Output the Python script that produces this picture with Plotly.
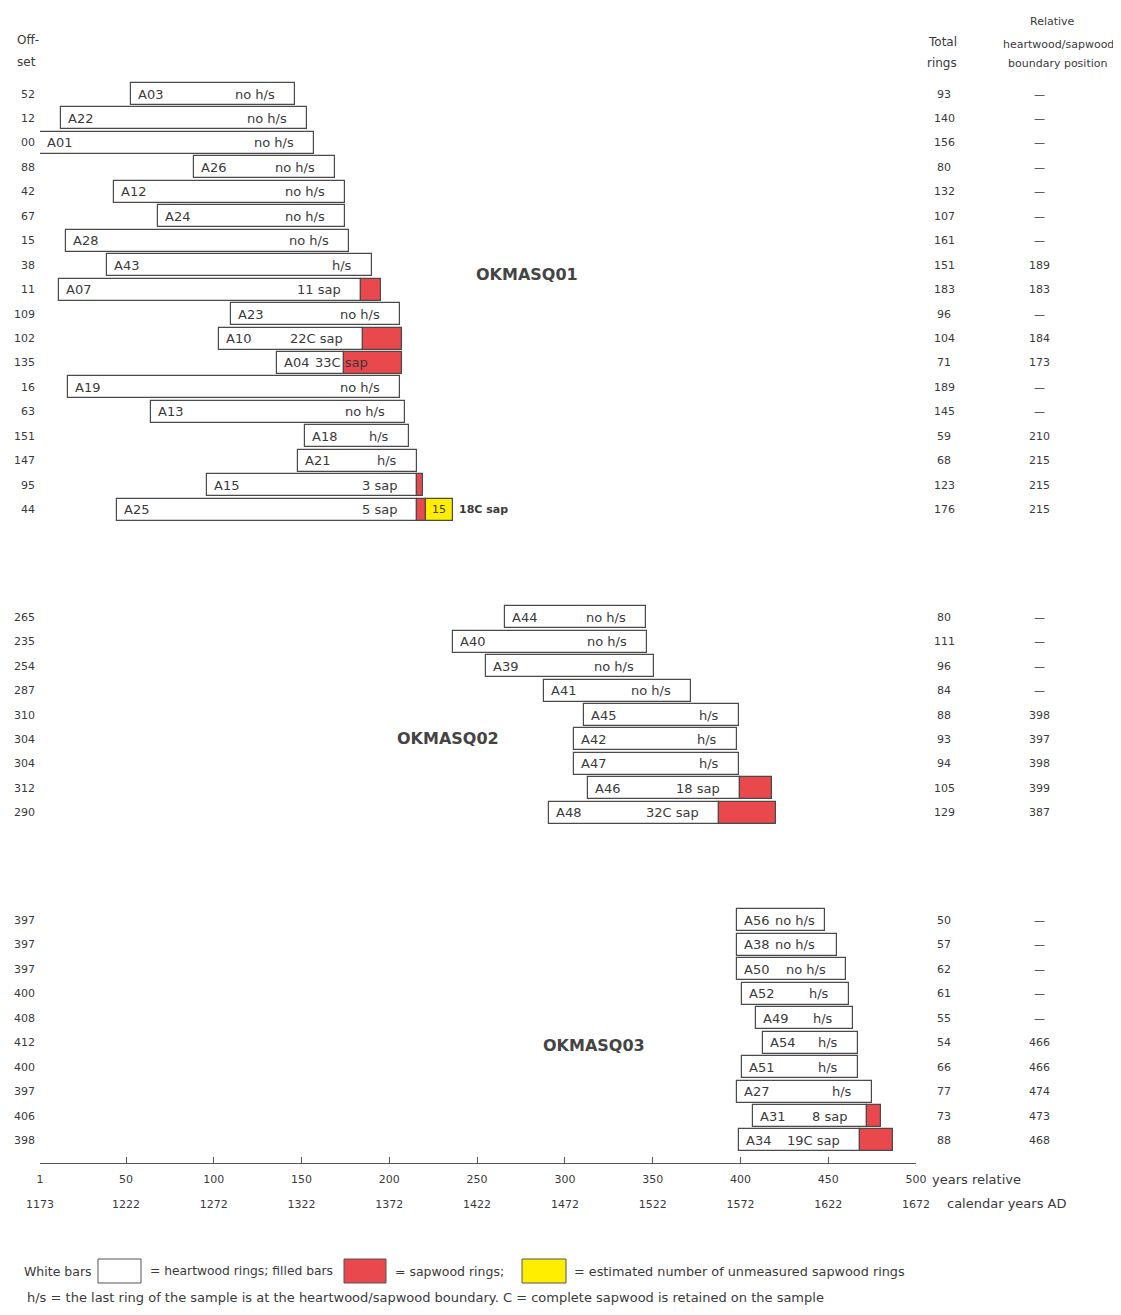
import plotly.graph_objects as go

# ---------------- data ----------------
g1_ids = ["A03", "A22", "A01", "A26", "A12", "A24", "A28", "A43", "A07", "A23",
          "A10", "A04", "A19", "A13", "A18", "A21", "A15", "A25"]
g1_offsets = [52, 12, 0, 88, 42, 67, 15, 38, 11, 109, 102, 135, 16, 63, 151, 147, 95, 44]
g1_totals = [93, 140, 156, 80, 132, 107, 161, 151, 183, 96, 104, 71, 189, 145, 59, 68, 123, 176]
g1_sap = [0, 0, 0, 0, 0, 0, 0, 0, 11, 0, 22, 33, 0, 0, 0, 0, 3, 5]
g1_est = [0] * 17 + [15]
g1_status = ["no h/s"] * 7 + ["h/s", "11 sap", "no h/s", "22C sap", "33C sap", "no h/s",
                              "no h/s", "h/s", "h/s", "3 sap", "5 sap"]
g1_boundary = ["—"] * 7 + ["189", "183", "—", "184", "173", "—", "—", "210", "215", "215", "215"]

g2_ids = ["A44", "A40", "A39", "A41", "A45", "A42", "A47", "A46", "A48"]
g2_offsets = [265, 235, 254, 287, 310, 304, 304, 312, 290]
g2_totals = [80, 111, 96, 84, 88, 93, 94, 105, 129]
g2_sap = [0, 0, 0, 0, 0, 0, 0, 18, 32]
g2_est = [0] * 9
g2_status = ["no h/s", "no h/s", "no h/s", "no h/s", "h/s", "h/s", "h/s", "18 sap", "32C sap"]
g2_boundary = ["—"] * 4 + ["398", "397", "398", "399", "387"]

g3_ids = ["A56", "A38", "A50", "A52", "A49", "A54", "A51", "A27", "A31", "A34"]
g3_offsets = [397, 397, 397, 400, 408, 412, 400, 397, 406, 398]
g3_totals = [50, 57, 62, 61, 55, 54, 66, 77, 73, 88]
g3_sap = [0, 0, 0, 0, 0, 0, 0, 0, 8, 19]
g3_est = [0] * 10
g3_status = ["no h/s", "no h/s", "no h/s", "h/s", "h/s", "h/s", "h/s", "h/s", "8 sap", "19C sap"]
g3_boundary = ["—"] * 5 + ["466", "466", "474", "473", "468"]

group_names = ["OKMASQ01", "OKMASQ02", "OKMASQ03"]
est_label = "15"
est_note = "18C sap"

rel_ticks = [1, 50, 100, 150, 200, 250, 300, 350, 400, 450, 500]
cal_ticks = [1173, 1222, 1272, 1322, 1372, 1422, 1472, 1522, 1572, 1622, 1672]

# ---------------- layout helpers ----------------
PAGE_W, PAGE_H = 1121, 1315
BODY = 8                        # default page margin around the figure
W, H = PAGE_W - 2 * BODY, PAGE_H - 2 * BODY
AX_L, AX_R = 40, 916            # page-pixel span of x axis (1 .. 500)
AX_T, AX_B = 70, 1163           # page-pixel span of plot area
ROW0_PX, ROW_PX = 94, 24.45     # first row centre, row pitch (page pixels)
GAP = 4.4                       # gap between groups, in rows
PPY = (AX_R - AX_L) / (rel_ticks[-1] - rel_ticks[0])   # pixels per year

TXT = "#3a3a3a"
FONT = "DejaVu Sans"
LINE = "#4a4a4a"
RED = "#e9484d"
YEL = "#ffee00"
BAR_FS = 13


def px(p):
    return (p - BODY) / W


def py(p):
    return 1 - (p - BODY) / H


def tw(s, k=8.4):
    return len(s) * k


def row_at(p):
    return (p - ROW0_PX) / ROW_PX


groups = [
    (g1_ids, g1_offsets, g1_totals, g1_sap, g1_est, g1_status, g1_boundary),
    (g2_ids, g2_offsets, g2_totals, g2_sap, g2_est, g2_status, g2_boundary),
    (g3_ids, g3_offsets, g3_totals, g3_sap, g3_est, g3_status, g3_boundary),
]

rows_y, starts, hw_len, sap_base, sap_len, est_base, est_len = [], [], [], [], [], [], []
annotations = []
shapes = []
cur = 0.0
for gi, (ids, offs, tots, saps, ests, stats, bnds) in enumerate(groups):
    for i in range(len(ids)):
        y = cur + i
        s = offs[i] + 1
        hw = tots[i] - saps[i]
        rows_y.append(y)
        starts.append(s)
        hw_len.append(hw)
        sap_base.append(s + hw)
        sap_len.append(saps[i])
        est_base.append(s + tots[i])
        est_len.append(ests[i])
        bf = dict(size=BAR_FS, color=TXT, family=FONT)
        # label in bar
        annotations.append(dict(x=s, y=y, xref="x", yref="y", text=ids[i], showarrow=False,
                                xanchor="left", xshift=5, font=bf))
        # status text
        need = tw(ids[i]) + tw(stats[i], 7.4) + 34
        if hw * PPY >= need:
            annotations.append(dict(x=s + hw, y=y, xref="x", yref="y", text=stats[i], showarrow=False,
                                    xanchor="right", xshift=-18, font=bf))
        else:
            annotations.append(dict(x=s, y=y, xref="x", yref="y", text=stats[i], showarrow=False,
                                    xanchor="left", xshift=5 + tw(ids[i]) + 6, font=bf))
        if ests[i] > 0:
            annotations.append(dict(x=s + tots[i] + ests[i] / 2, y=y, xref="x", yref="y",
                                    text=est_label, showarrow=False, xanchor="center",
                                    font=dict(size=11, color=TXT, family=FONT)))
            annotations.append(dict(x=s + tots[i] + ests[i], y=y, xref="x", yref="y",
                                    text="<b>" + est_note + "</b>", showarrow=False, xanchor="left",
                                    xshift=4, font=dict(size=11, color=TXT, family=FONT)))
        # side columns
        annotations.append(dict(x=px(37), y=y, xref="paper", yref="y", text=f"{offs[i]:02d}",
                                showarrow=False, xanchor="right",
                                font=dict(size=11, color=TXT, family=FONT)))
        annotations.append(dict(x=px(944), y=y, xref="paper", yref="y", text=str(tots[i]),
                                showarrow=False, xanchor="center",
                                font=dict(size=11, color=TXT, family=FONT)))
        annotations.append(dict(x=px(1039), y=y, xref="paper", yref="y", text=bnds[i],
                                showarrow=False, xanchor="center",
                                font=dict(size=11, color=TXT, family=FONT)))
    cur += len(ids) - 1 + GAP

bar_w = 0.9
fig = go.Figure()
fig.add_trace(go.Bar(orientation="h", y=rows_y, base=starts, x=hw_len, width=bar_w,
                     marker=dict(color="white", line=dict(color=LINE, width=1.2)),
                     hoverinfo="skip", showlegend=False))
sy = [y for y, l in zip(rows_y, sap_len) if l > 0]
sb = [b for b, l in zip(sap_base, sap_len) if l > 0]
sl = [l for l in sap_len if l > 0]
fig.add_trace(go.Bar(orientation="h", y=sy, base=sb, x=sl, width=bar_w,
                     marker=dict(color=RED, line=dict(color=LINE, width=1.2)),
                     hoverinfo="skip", showlegend=False))
ey = [y for y, l in zip(rows_y, est_len) if l > 0]
eb = [b for b, l in zip(est_base, est_len) if l > 0]
el = [l for l in est_len if l > 0]
fig.add_trace(go.Bar(orientation="h", y=ey, base=eb, x=el, width=bar_w,
                     marker=dict(color=YEL, line=dict(color=LINE, width=1.2)),
                     hoverinfo="skip", showlegend=False))
# carrier for calendar-year axis
fig.add_trace(go.Scatter(x=[rel_ticks[0], rel_ticks[-1]], y=[0, 0], xaxis="x2", yaxis="y",
                         mode="markers", marker=dict(opacity=0), hoverinfo="skip", showlegend=False))

# group titles
title_px = [(527, 274), (448, 738), (594, 1045)]
for name, (tx, ty) in zip(group_names, title_px):
    annotations.append(dict(x=px(tx), y=py(ty), xref="paper", yref="paper", text="<b>" + name + "</b>",
                            showarrow=False, xanchor="center", yanchor="middle",
                            font=dict(size=16, color="#444", family=FONT)))

# headers
hdr = [("Off-", 15, 40, "left", 12), ("set", 15, 62, "left", 12),
       ("Total", 942, 42, "center", 12), ("rings", 942, 63, "center", 12),
       ("Relative", 1052, 22, "center", 11), ("heartwood/sapwood", 1058, 44, "center", 11),
       ("boundary position", 1058, 64, "center", 11)]
for t, hx, hy, anc, fs in hdr:
    annotations.append(dict(x=px(hx), y=py(hy), xref="paper", yref="paper", text=t, showarrow=False,
                            xanchor=anc, yanchor="middle", font=dict(size=fs, color=TXT, family=FONT)))

# axis captions
cap_font = dict(size=13, color=TXT, family=FONT)
annotations.append(dict(x=px(930), y=py(1179), xref="paper", yref="paper", text="years relative",
                        showarrow=False, xanchor="left", yanchor="middle", font=cap_font))
annotations.append(dict(x=px(945), y=py(1203), xref="paper", yref="paper", text="calendar years AD",
                        showarrow=False, xanchor="left", yanchor="middle", font=cap_font))

# legend
leg_y = 1271
for t, lx, fs in [("White bars", 22, 12.5), ("= heartwood rings; filled bars", 148, 12.3),
                  ("= sapwood rings;", 393, 12.5),
                  ("= estimated number of unmeasured sapwood rings", 572, 12.8)]:
    annotations.append(dict(x=px(lx), y=py(leg_y), xref="paper", yref="paper", text=t,
                            showarrow=False, xanchor="left", yanchor="middle",
                            font=dict(size=fs, color=TXT, family=FONT)))
annotations.append(dict(x=px(25), y=py(1297), xref="paper", yref="paper",
                        text="h/s = the last ring of the sample is at the heartwood/sapwood boundary. "
                             "C = complete sapwood is retained on the sample",
                        showarrow=False, xanchor="left", yanchor="middle",
                        font=dict(size=13, color=TXT, family=FONT)))
for x0, x1, col in [(98, 141, "white"), (344, 386, RED), (522, 566, YEL)]:
    shapes.append(dict(type="rect", xref="paper", yref="paper", x0=px(x0), x1=px(x1),
                       y0=py(1283), y1=py(1259), fillcolor=col, line=dict(color="#555", width=1)))

fig.update_layout(
    template="none",
    width=W, height=H, margin=dict(l=0, r=0, t=0, b=0, autoexpand=False),
    paper_bgcolor="white", plot_bgcolor="white",
    barmode="overlay", bargap=0,
    xaxis=dict(domain=[px(AX_L), px(AX_R)], range=[rel_ticks[0], rel_ticks[-1]],
               tickvals=rel_ticks, ticktext=[str(t) for t in rel_ticks],
               ticks="inside", ticklen=6, tickcolor="#555", showline=True, linecolor="#555",
               linewidth=1, showgrid=False, zeroline=False, anchor="y", automargin=False,
               tickfont=dict(size=11, color=TXT, family=FONT), ticklabelstandoff=6),
    xaxis2=dict(overlaying="x", anchor="free", position=py(1196), automargin=False,
                range=[rel_ticks[0], rel_ticks[-1]], tickvals=rel_ticks,
                ticktext=[str(t) for t in cal_ticks], ticks="", showline=False, showgrid=False,
                zeroline=False, side="bottom", tickfont=dict(size=11, color=TXT, family=FONT)),
    yaxis=dict(domain=[py(AX_B), py(AX_T)], range=[row_at(AX_B), row_at(AX_T)],
               visible=False, showgrid=False, zeroline=False, automargin=False),
    annotations=annotations, shapes=shapes,
)
fig.write_html("out.html")
